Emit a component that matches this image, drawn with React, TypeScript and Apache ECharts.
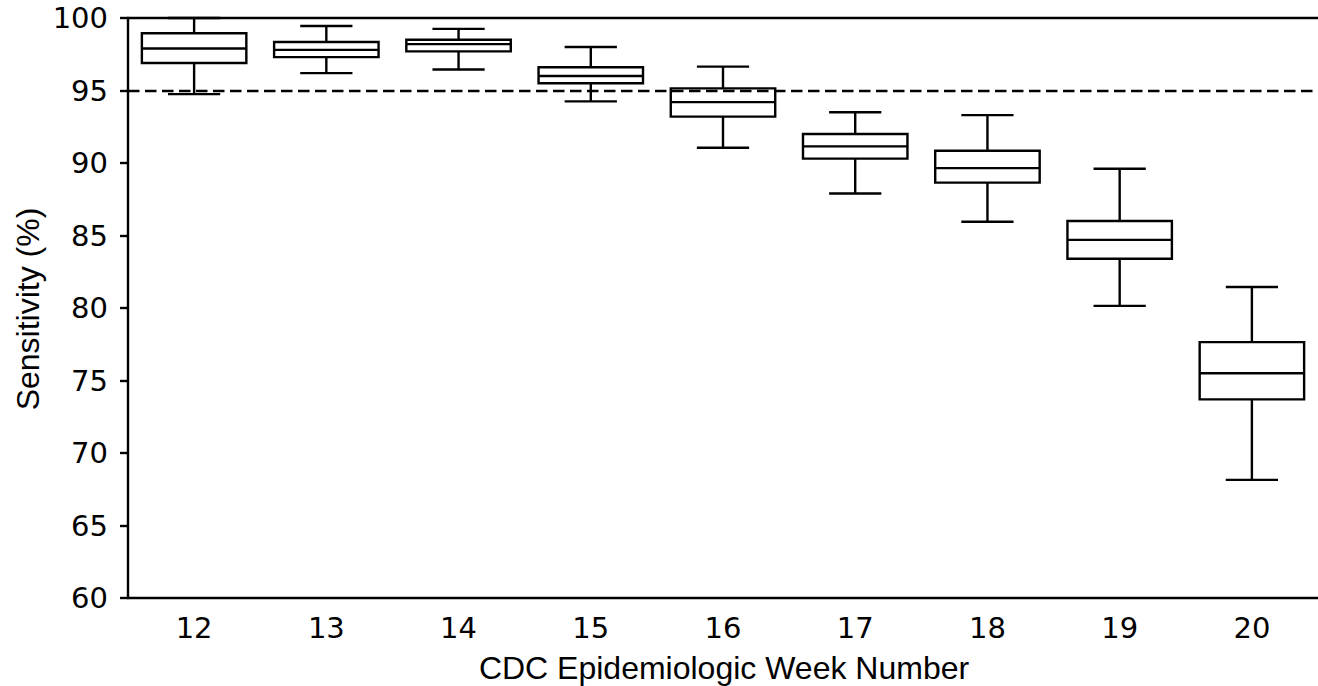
import React, { useEffect, useRef } from "react";
import * as echarts from "echarts";

const weeks = ["12", "13", "14", "15", "16", "17", "18", "19", "20"];
const whiskerLow = [94.75, 96.2, 96.45, 94.25, 91.05, 87.9, 85.95, 80.15, 68.15];
const q1 = [96.9, 97.3, 97.7, 95.5, 93.2, 90.3, 88.65, 83.4, 73.7];
const median = [97.9, 97.8, 98.2, 96.0, 94.2, 91.15, 89.65, 84.7, 75.5];
const q3 = [98.95, 98.35, 98.5, 96.6, 95.15, 92.0, 90.85, 86.0, 77.65];
const whiskerHigh = [100, 99.45, 99.25, 98.0, 96.65, 93.5, 93.3, 89.6, 81.45];
const yTicks = { min: 60, max: 100, interval: 5 };
const threshold = 95;
const xTitle = "CDC Epidemiologic Week Number";
const yTitle = "Sensitivity (%)";

export default function App() {
  const ref = useRef<HTMLDivElement>(null);
  useEffect(() => {
    if (!ref.current) return;
    const chart = echarts.init(ref.current, undefined, { renderer: "svg" });
    const data = weeks.map((_, i) => [i, whiskerLow[i], q1[i], median[i], q3[i], whiskerHigh[i]]);
    const LW = 2.4;
    const stroke = { stroke: "#000", lineWidth: LW, fill: "none" };
    chart.setOption({
      animation: false,
      backgroundColor: "#fff",
      grid: { left: 128, top: 18, width: 1194, height: 580, show: false },
      xAxis: [
        {
          type: "category",
          data: weeks,
          boundaryGap: true,
          axisLine: { lineStyle: { color: "#000", width: LW } },
          axisTick: { alignWithLabel: true, length: 8, lineStyle: { color: "#000", width: LW } },
          axisLabel: { color: "#000", fontFamily: "DejaVu Sans", fontSize: 29, margin: 15 },
          splitLine: { show: false },
        },
        {
          type: "category",
          data: weeks,
          position: "top",
          axisLine: { show: true, lineStyle: { color: "#000", width: LW } },
          axisTick: { show: false },
          axisLabel: { show: false },
          splitLine: { show: false },
        },
      ],
      yAxis: {
        type: "value",
        min: yTicks.min,
        max: yTicks.max,
        interval: yTicks.interval,
        axisLine: { show: true, lineStyle: { color: "#000", width: LW } },
        axisTick: { show: true, length: 8, lineStyle: { color: "#000", width: LW } },
        axisLabel: { color: "#000", fontFamily: "DejaVu Sans", fontSize: 29, margin: 20 },
        splitLine: { show: false },
      },
      graphic: [
        {
          type: "text",
          x: 724,
          y: 668,
          style: { text: xTitle, font: '32px "Liberation Sans"', fill: "#000", align: "center", verticalAlign: "middle", textAlign: "center", textVerticalAlign: "middle" },
        },
        {
          type: "text",
          x: 28,
          y: 309,
          rotation: Math.PI / 2,
          style: { text: yTitle, font: '32px "Liberation Sans"', fill: "#000", align: "center", verticalAlign: "middle", textAlign: "center", textVerticalAlign: "middle" },
        },
      ],
      series: [
        {
          type: "custom",
          xAxisIndex: 0,
          data,
          encode: { x: 0, y: [1, 2, 3, 4, 5] },
          renderItem: (params: any, api: any) => {
            const idx = api.value(0);
            const pLow = api.coord([idx, api.value(1)]);
            const pQ1 = api.coord([idx, api.value(2)]);
            const pMed = api.coord([idx, api.value(3)]);
            const pQ3 = api.coord([idx, api.value(4)]);
            const pHigh = api.coord([idx, api.value(5)]);
            const band = api.size([1, 0])[0];
            const bw = band * 0.79;
            const cw = bw / 2;
            const cx = pMed[0];
            return {
              type: "group",
              children: [
                { type: "rect", shape: { x: cx - bw / 2, y: pQ3[1], width: bw, height: pQ1[1] - pQ3[1] }, style: stroke },
                { type: "line", shape: { x1: cx - bw / 2, y1: pMed[1], x2: cx + bw / 2, y2: pMed[1] }, style: stroke },
                { type: "line", shape: { x1: cx, y1: pQ3[1], x2: cx, y2: pHigh[1] }, style: stroke },
                { type: "line", shape: { x1: cx, y1: pQ1[1], x2: cx, y2: pLow[1] }, style: stroke },
                { type: "line", shape: { x1: cx - cw / 2, y1: pHigh[1], x2: cx + cw / 2, y2: pHigh[1] }, style: stroke },
                { type: "line", shape: { x1: cx - cw / 2, y1: pLow[1], x2: cx + cw / 2, y2: pLow[1] }, style: stroke },
              ],
            };
          },
          markLine: {
            silent: true,
            symbol: "none",
            label: { show: false },
            lineStyle: { color: "#000", width: LW, type: [11.5, 5.5] },
            data: [{ yAxis: threshold }],
          },
        },
      ],
    });
    return () => chart.dispose();
  }, []);
  return <div ref={ref} style={{ position: "absolute", left: 0, top: 0, width: 1318, height: 686 }} />;
}
